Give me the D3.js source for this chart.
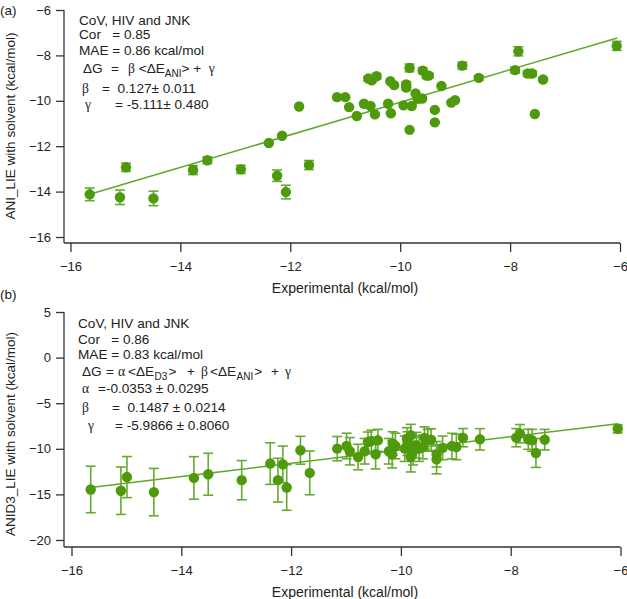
<!DOCTYPE html>
<html><head><meta charset="utf-8">
<script src="https://cdn.jsdelivr.net/npm/d3@7"></script>
<style>
body{margin:0;background:#fff;}
svg text{font-family:"Liberation Sans",Arial,sans-serif;fill:#222;}
.gr{font-family:"Liberation Serif","Times New Roman",serif !important;}
</style></head>
<body>
<svg id="c" width="627" height="599"></svg>
<script>
// Panel (a): ANI_LIE with solvent vs experimental
const aX = [-15.65,-14.99,-15.10,-14.49,-13.77,-13.51,-12.90,-12.39,-12.15,-12.24,-12.08,-11.66,-11.84,-11.15,-11.00,-10.93,-10.79,-10.66,-10.54,-10.46,-10.58,-10.52,-10.43,-10.22,-10.17,-10.18,-10.11,-9.94,-9.89,-9.89,-9.83,-9.83,-9.79,-9.72,-9.68,-9.60,-9.59,-9.52,-9.48,-9.37,-9.37,-9.25,-9.07,-9.00,-8.87,-8.57,-7.91,-7.85,-7.68,-7.60,-7.55,-7.40,-6.06];
const aY = [-14.12,-12.93,-14.25,-14.30,-13.05,-12.62,-13.02,-11.86,-11.54,-13.30,-14.02,-12.83,-10.25,-9.84,-9.84,-10.28,-10.67,-10.13,-10.23,-10.60,-9.02,-9.10,-8.92,-10.13,-10.55,-9.14,-9.31,-10.20,-9.28,-9.42,-8.55,-11.28,-10.23,-9.68,-9.91,-9.90,-8.67,-8.89,-8.89,-10.40,-10.95,-9.35,-10.08,-9.97,-8.45,-8.99,-8.65,-7.82,-8.80,-8.80,-10.58,-9.06,-7.58];
const aErr = [0.28,0.18,0.32,0.32,0.2,0.15,0.18,0,0,0.25,0.3,0.2,0,0,0,0,0,0,0,0,0.1,0.1,0.12,0,0,0,0,0,0.12,0.1,0.17,0,0,0,0,0,0.13,0.12,0.1,0,0,0,0,0,0.15,0.1,0.13,0.2,0.12,0.12,0,0.08,0.2];
const aFitX = [-15.65,-6.05];
const aFitY = [-14.12,-7.23];
const aLines = ["CoV, HIV and JNK","Cor   = 0.85","MAE = 0.86 kcal/mol"];

// Panel (b): ANID3_LIE with solvent vs experimental
const bX = [-15.65,-15.10,-14.99,-14.50,-13.77,-13.51,-12.90,-12.38,-12.24,-12.15,-12.08,-11.83,-11.66,-11.16,-10.99,-10.93,-10.78,-10.66,-10.60,-10.54,-10.46,-10.42,-10.22,-10.16,-10.15,-10.10,-9.93,-9.89,-9.88,-9.82,-9.82,-9.78,-9.72,-9.67,-9.60,-9.57,-9.51,-9.45,-9.35,-9.35,-9.24,-9.07,-8.99,-8.87,-8.56,-7.90,-7.83,-7.68,-7.61,-7.54,-7.38,-6.05];
const bY = [-14.46,-14.60,-13.10,-14.75,-13.19,-12.79,-13.44,-11.62,-13.44,-11.70,-14.24,-10.16,-12.64,-9.98,-9.69,-10.27,-10.90,-10.27,-9.26,-9.15,-10.60,-9.07,-10.27,-10.60,-9.43,-9.69,-9.98,-8.89,-9.43,-8.52,-10.90,-10.27,-9.60,-9.98,-9.80,-8.80,-9.07,-9.00,-10.60,-11.15,-9.90,-9.70,-9.80,-8.78,-8.96,-8.78,-8.34,-8.96,-9.07,-10.46,-9.00,-7.80];
const bErr = [2.55,2.6,2.25,2.6,2.33,2.3,2.15,2.28,2.4,2.0,2.5,1.53,2.4,1.33,1.4,1.5,1.4,1.4,1.1,1.2,1.6,1.2,1.4,1.5,1.3,1.4,1.4,1.2,1.3,1.2,1.64,1.5,1.4,1.4,1.3,1.2,1.2,1.2,1.4,1.6,1.3,1.4,1.4,1.0,1.17,1.0,1.0,1.1,1.2,1.58,1.13,0.45];
const bFitX = [-15.65,-6.05];
const bFitY = [-14.24,-7.25];
const bLines = ["CoV, HIV and JNK","Cor   = 0.86","MAE = 0.83 kcal/mol"];

const xTicks = [-16,-14,-12,-10,-8,-6];
const aYTicks = [-16,-14,-12,-10,-8,-6];
const bYTicks = [-20,-15,-10,-5,0,5];

const PT = "#4e9a0c", LN = "#5ea82a", EB = "#66aa30", AX = "#333";
const svg = d3.select("#c");

function panel(cfg){
  const g = svg.append("g");
  const x = d3.scaleLinear().domain([-16,-6]).range(cfg.xr);
  const y = d3.scaleLinear().domain(cfg.yd).range(cfg.yr);
  const ya = d3.axisLeft(y).tickValues(cfg.yTicks).tickSize(8).tickPadding(5).tickFormat(d3.format("d"));
  const xa = d3.axisBottom(x).tickValues(xTicks).tickSize(9).tickPadding(10).tickFormat(d3.format("d"));
  const gy = g.append("g").attr("transform",`translate(${cfg.ax},0)`).call(ya);
  const gx = g.append("g").attr("transform",`translate(0,${cfg.ay})`).call(xa);
  [gy,gx].forEach(a=>{a.select(".domain").remove();
    a.selectAll("line").attr("stroke",AX).attr("stroke-width",1.3);
    a.selectAll("text").style("font-size","13px").attr("fill","#222");});
  g.append("line").attr("x1",cfg.ax).attr("x2",cfg.ax).attr("y1",y(cfg.yd[1])).attr("y2",cfg.ay).attr("stroke",AX).attr("stroke-width",1.3);
  g.append("line").attr("x1",cfg.ax).attr("x2",x(-6)).attr("y1",cfg.ay).attr("y2",cfg.ay).attr("stroke",AX).attr("stroke-width",1.3);
  g.append("text").attr("x",345).attr("y",cfg.ay+50).attr("text-anchor","middle").style("font-size","14px").text("Experimental (kcal/mol)");
  g.append("text").attr("transform",`translate(15,${cfg.ylc}) rotate(-90)`).attr("text-anchor","middle").style("font-size","13.5px").text(cfg.ylab);
  g.append("text").attr("x",0).attr("y",cfg.tag).style("font-size","13.5px").text(cfg.tagText);
  g.append("line").attr("x1",x(cfg.fx[0])).attr("x2",x(cfg.fx[1])).attr("y1",y(cfg.fy[0])).attr("y2",y(cfg.fy[1])).attr("stroke",LN).attr("stroke-width",1.5);
  const data = cfg.X.map((v,i)=>({x:v,y:cfg.Y[i],e:cfg.E[i]}));
  const eb = g.append("g").attr("stroke",EB).attr("stroke-width",1.6).attr("fill","none");
  data.filter(d=>d.e>0).forEach(d=>{
    const cx=x(d.x), y1=y(d.y+d.e), y2=y(d.y-d.e);
    eb.append("line").attr("x1",cx).attr("x2",cx).attr("y1",y1).attr("y2",y2);
    eb.append("line").attr("x1",cx-5).attr("x2",cx+5).attr("y1",y1).attr("y2",y1);
    eb.append("line").attr("x1",cx-5).attr("x2",cx+5).attr("y1",y2).attr("y2",y2);
  });
  g.append("g").selectAll("circle").data(data).join("circle")
    .attr("cx",d=>x(d.x)).attr("cy",d=>y(d.y)).attr("r",5.2).attr("fill",PT);
  return g;
}

const ga = panel({xr:[70.5,620],yd:[-16,-6],yr:[237,10],ax:64,ay:243,yTicks:aYTicks,X:aX,Y:aY,E:aErr,fx:aFitX,fy:aFitY,
  ylab:"ANI_LIE with solvent (kcal/mol)",ylc:126,tag:15,tagText:"(a)"});
const gb = panel({xr:[71.5,620.5],yd:[-20,5],yr:[540,312],ax:64,ay:547,yTicks:bYTicks,X:bX,Y:bY,E:bErr,fx:bFitX,fy:bFitY,
  ylab:"ANID3_LIE with solvent (kcal/mol)",ylc:434,tag:299,tagText:"(b)"});

function txt(g,x,y,parts){
  const t=g.append("text").attr("x",x).attr("y",y).style("font-size","13.6px").attr("xml:space","preserve");
  parts.forEach(p=>{
    const s=t.append("tspan").text(p.t);
    if(p.x!==undefined) s.attr("x",p.x);
    if(p.g) s.attr("class","gr");
    if(p.sub) s.style("font-size","10px");
    if(p.dy) s.attr("dy",p.dy);
    if(p.dx) s.attr("dx",p.dx);
  });
  return t;
}
// panel a annotations
aLines.forEach((s,i)=>txt(ga,79,[25,39,55][i],[{t:s}]));
txt(ga,83,73,[{t:"ΔG"},{t:"=",x:111},{t:"β",x:128,g:true},{t:" <ΔE"},{t:"ANI",sub:true,dy:4},{t:">",dy:-4},{t:" +  "},{t:"γ",g:true}]);
txt(ga,82,93,[{t:"β",g:true},{t:"=  0.127± 0.011",x:102}]);
txt(ga,85,109,[{t:"γ",g:true},{t:"= -5.111± 0.480",x:115}]);
// panel b annotations
bLines.forEach((s,i)=>txt(gb,78,[328,344,359][i],[{t:s}]));
txt(gb,82,376,[{t:"ΔG"},{t:"=",x:106},{t:"α",x:118,g:true},{t:"<ΔE",x:128},{t:"D3",sub:true,dy:4,dx:0.5},{t:">",dy:-4,dx:1},{t:"+",x:187},{t:"β",x:201,g:true},{t:"<ΔE",x:210},{t:"ANI",sub:true,dy:4,dx:0.5},{t:">",dy:-4,dx:1},{t:"+",x:271},{t:"γ",x:285,g:true}]);
txt(gb,82,393,[{t:"α",g:true},{t:"=-0.0353 ± 0.0295",x:98}]);
txt(gb,82,412,[{t:"β",g:true},{t:"=  0.1487 ± 0.0214",x:112}]);
txt(gb,88,430,[{t:"γ",g:true},{t:"= -5.9866 ± 0.8060",x:115}]);
</script>
</body></html>
